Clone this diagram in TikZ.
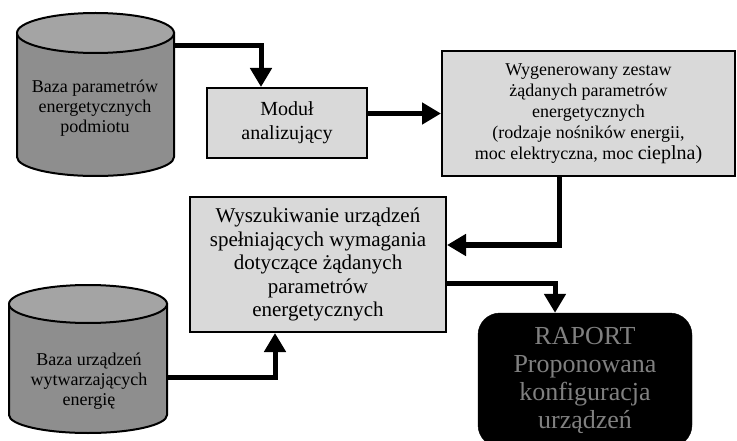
\documentclass[tikz,border=0pt]{standalone}
\usepackage{fontspec}
\setmainfont{Liberation Serif}
\usetikzlibrary{arrows.meta}
\definecolor{boxgray}{HTML}{D9D9D9}
\definecolor{cylbody}{HTML}{8E8E8E}
\definecolor{cyltop}{HTML}{A4A4A4}
\definecolor{raptext}{HTML}{808080}
\begin{document}
\begin{tikzpicture}[x=1pt,y=-1pt,
  box/.style={draw=black, line width=2pt, fill=boxgray, align=center, inner sep=0pt},
  conn/.style={line width=5pt, -{Triangle[width=21pt,length=19pt]}},
  cyl/.style={draw=black, line width=2pt},
  cyltext/.style={align=center, inner sep=0pt, font=\fontsize{18}{20}\selectfont}]
\useasboundingbox (0,0) rectangle (737,441);

% cylinder 1
\filldraw[cyl, fill=cylbody] (17,33) -- (17,157) arc[start angle=180, end angle=360, x radius=78.5pt, y radius=19pt] -- (174,33) -- cycle;
\filldraw[cyl, fill=cyltop] (95.5,33) ellipse [x radius=78.5pt, y radius=20pt];
\node[cyltext] (db1) at (95,108) {Baza parametrów\\energetycznych\\podmiotu};
\coordinate (db1e) at (174,46);

% cylinder 2
\filldraw[cyl, fill=cylbody] (9,304) -- (9,415) arc[start angle=180, end angle=360, x radius=79pt, y radius=18pt] -- (167,304) -- cycle;
\filldraw[cyl, fill=cyltop] (88,304) ellipse [x radius=79pt, y radius=19pt];
\node[cyltext] (db2) at (89,381) {Baza urządzeń\\wytwarzających\\energię};
\coordinate (db2e) at (167,377);

% boxes
\node[box, minimum width=160pt, minimum height=70pt, font=\fontsize{20}{24}\selectfont] (mod) at (287,123) {Moduł\\analizujący};
\node[box, minimum width=293pt, minimum height=125pt, font=\fontsize{18}{21}\selectfont] (gen) at (588.5,113.5) {Wygenerowany zestaw\\żądanych parametrów\\energetycznych\\(rodzaje nośników energii,\\moc elektryczna, moc {\fontsize{20}{21}\selectfont cieplna)}};
\node[box, minimum width=256pt, minimum height=135pt, font=\fontsize{21}{23.5}\selectfont] (srch) at (318,264.5) {Wyszukiwanie urządzeń\\spełniających wymagania\\dotyczące żądanych\\parametrów\\energetycznych};
\node[draw=black, fill=black, rounded corners=22pt, minimum width=214pt, minimum height=134pt, inner sep=0pt, text=raptext, align=center, font=\fontsize{26}{28}\selectfont] (rap) at (585,380) {RAPORT\\Proponowana\\konfiguracja\\urządzeń};

% connectors
\coordinate (k1) at (261,46);
\draw[conn] (db1e) -- (k1) -- (k1 |- mod.north);
\draw[conn] (mod.east |- gen.west) -- (gen.west);
\coordinate (k2) at (559,245);
\draw[conn] (k2 |- gen.south) -- (k2) -- (k2 -| srch.east);
\coordinate (k3) at (275,377);
\draw[conn] (db2e) -- (k3) -- (k3 |- srch.south);
\coordinate (k4) at (555,283);
\draw[conn] (srch.east |- k4) -- (k4) -- (k4 |- rap.north);
\end{tikzpicture}
\end{document}
